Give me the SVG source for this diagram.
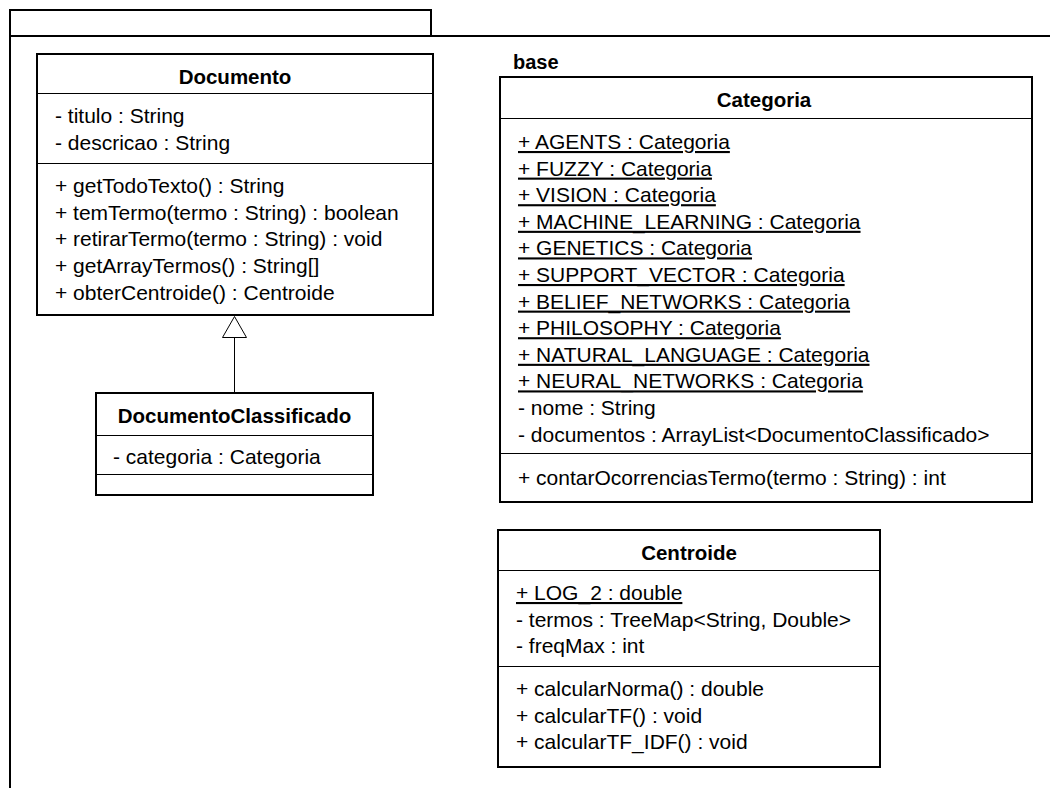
<svg xmlns="http://www.w3.org/2000/svg" width="1050" height="788" viewBox="0 0 1050 788">
  <style>
    .frame { fill: none; stroke: #000; stroke-width: 2; }
    .box { fill: #fff; stroke: #000; stroke-width: 2; }
    .sep { stroke: #000; stroke-width: 1; }
    .title { font-family: "Liberation Sans", Arial, sans-serif; font-size: 20.5px; font-weight: bold; fill: #000; text-anchor: middle; }
    .pkg { font-family: "Liberation Sans", Arial, sans-serif; font-size: 20px; font-weight: bold; fill: #000; }
    .m { font-family: "Liberation Sans", Arial, sans-serif; font-size: 21px; fill: #000; }
    .st { text-decoration: underline; }
    .edge { fill: none; stroke: #000; stroke-width: 1; }
    .head { fill: #fff; stroke: #000; stroke-width: 1; }
  </style>

  <!-- package frame with tab -->
  <g id="package-base">
    <path class="frame" d="M10,788 V10 H431 V36"/>
    <path class="frame" d="M10,36 H1050"/>
    <text class="pkg" x="513" y="69">base</text>
  </g>

  <!-- generalization: DocumentoClassificado extends Documento -->
  <g id="connectors">
    <line class="edge" x1="234.5" y1="337" x2="234.5" y2="393"/>
    <polygon class="head" points="234.5,316.5 222.5,337.5 246.5,337.5"/>
  </g>

  <g id="Documento">
    <rect class="box" x="37" y="54" width="396" height="261"/>
    <line class="sep" x1="37" y1="93.5" x2="433" y2="93.5"/>
    <line class="sep" x1="37" y1="163.5" x2="433" y2="163.5"/>
    <text class="title" x="235" y="84">Documento</text>
    <text class="m" x="55" y="123">- titulo : String</text>
    <text class="m" x="55" y="150">- descricao : String</text>
    <text class="m" x="55" y="193">+ getTodoTexto() : String</text>
    <text class="m" x="55" y="220">+ temTermo(termo : String) : boolean</text>
    <text class="m" x="55" y="246">+ retirarTermo(termo : String) : void</text>
    <text class="m" x="55" y="273">+ getArrayTermos() : String[]</text>
    <text class="m" x="55" y="300">+ obterCentroide() : Centroide</text>
  </g>

  <g id="DocumentoClassificado">
    <rect class="box" x="96" y="393" width="277" height="102"/>
    <line class="sep" x1="96" y1="435.5" x2="373" y2="435.5"/>
    <line class="sep" x1="96" y1="474.5" x2="373" y2="474.5"/>
    <text class="title" x="234.5" y="423">DocumentoClassificado</text>
    <text class="m" x="113" y="464">- categoria : Categoria</text>
  </g>

  <g id="Categoria">
    <rect class="box" x="500" y="77" width="532" height="425"/>
    <line class="sep" x1="500" y1="118.5" x2="1032" y2="118.5"/>
    <line class="sep" x1="500" y1="453.5" x2="1032" y2="453.5"/>
    <text class="title" x="764" y="107">Categoria</text>
    <text class="m st" x="518" y="149">+ AGENTS : Categoria</text>
    <text class="m st" x="518" y="175.6">+ FUZZY : Categoria</text>
    <text class="m st" x="518" y="202.2">+ VISION : Categoria</text>
    <text class="m st" x="518" y="228.8">+ MACHINE_LEARNING : Categoria</text>
    <text class="m st" x="518" y="255.4">+ GENETICS : Categoria</text>
    <text class="m st" x="518" y="282">+ SUPPORT_VECTOR : Categoria</text>
    <text class="m st" x="518" y="308.6">+ BELIEF_NETWORKS : Categoria</text>
    <text class="m st" x="518" y="335.2">+ PHILOSOPHY : Categoria</text>
    <text class="m st" x="518" y="361.8">+ NATURAL_LANGUAGE : Categoria</text>
    <text class="m st" x="518" y="388.4">+ NEURAL_NETWORKS : Categoria</text>
    <text class="m" x="518" y="415">- nome : String</text>
    <text class="m" x="518" y="441.6">- documentos : ArrayList&lt;DocumentoClassificado&gt;</text>
    <text class="m" x="518" y="485">+ contarOcorrenciasTermo(termo : String) : int</text>
  </g>

  <g id="Centroide">
    <rect class="box" x="498" y="530" width="382" height="237"/>
    <line class="sep" x1="498" y1="570.5" x2="880" y2="570.5"/>
    <line class="sep" x1="498" y1="666.5" x2="880" y2="666.5"/>
    <text class="title" x="689" y="560">Centroide</text>
    <text class="m st" x="516" y="600">+ LOG_2 : double</text>
    <text class="m" x="516" y="626.6">- termos : TreeMap&lt;String, Double&gt;</text>
    <text class="m" x="516" y="653.2">- freqMax : int</text>
    <text class="m" x="516" y="696">+ calcularNorma() : double</text>
    <text class="m" x="516" y="722.6">+ calcularTF() : void</text>
    <text class="m" x="516" y="749.2">+ calcularTF_IDF() : void</text>
  </g>
</svg>
